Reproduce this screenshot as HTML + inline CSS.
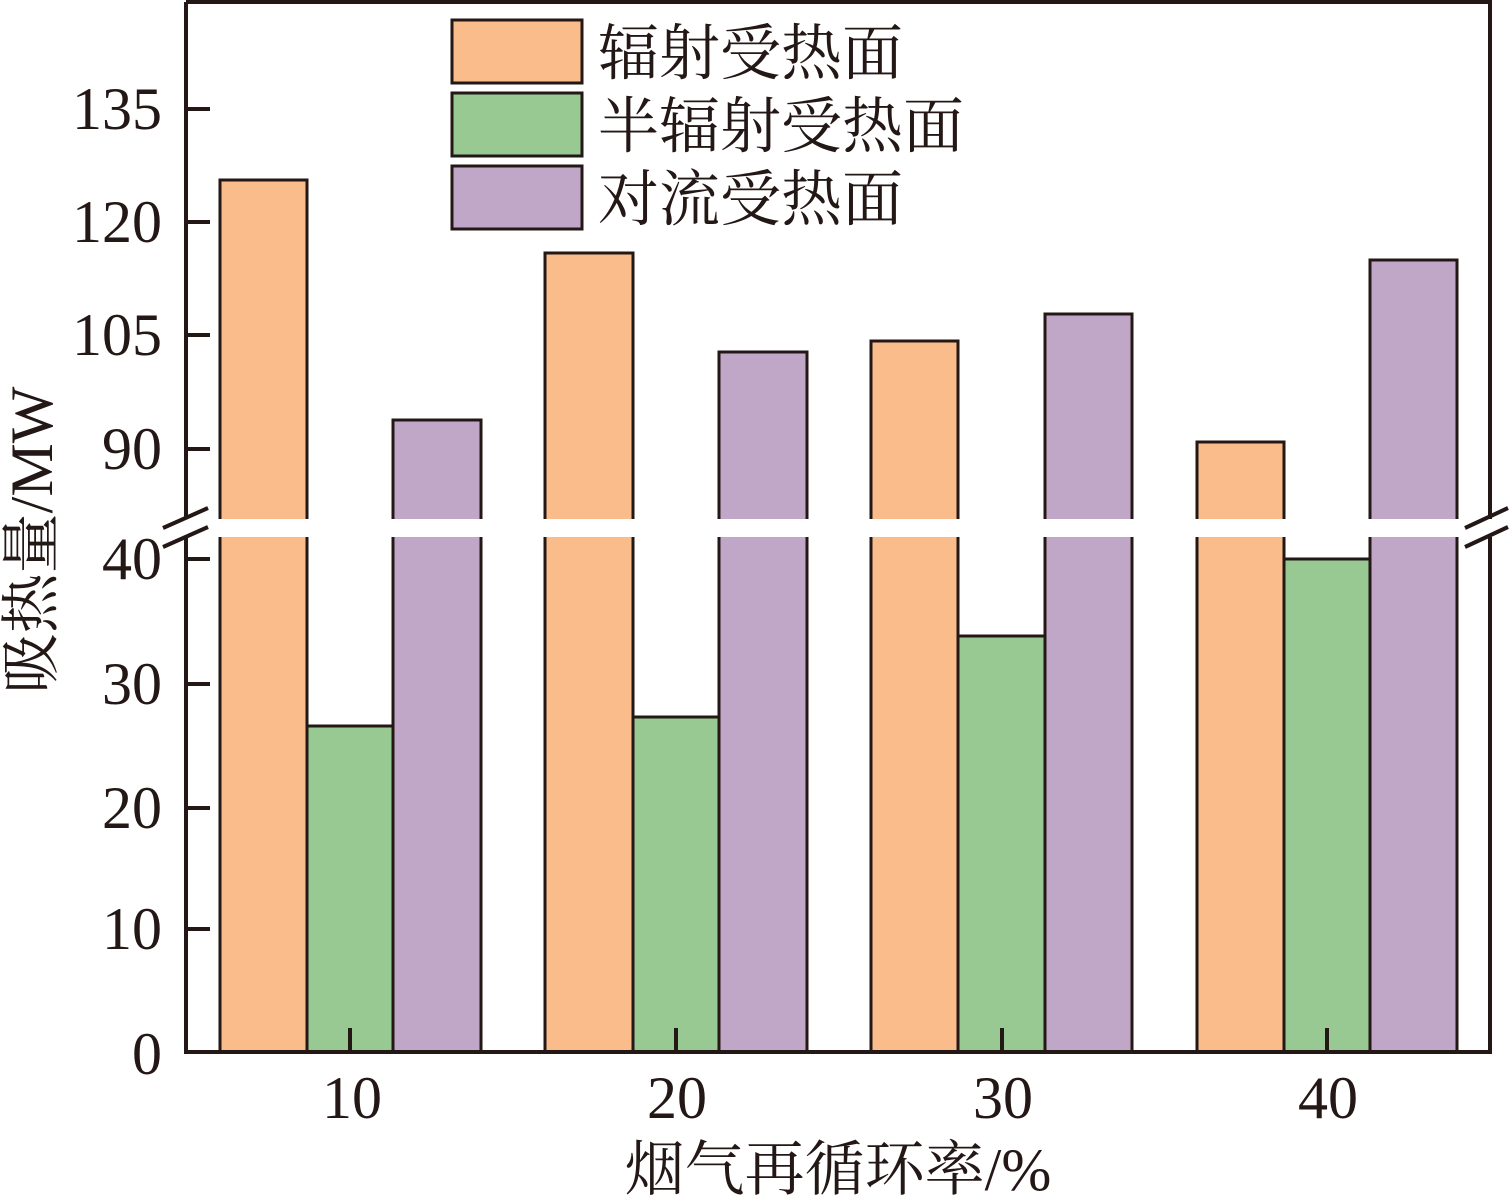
<!DOCTYPE html>
<html><head><meta charset="utf-8"><style>body{margin:0;background:#fff}</style></head><body>
<svg width="1509" height="1199" viewBox="0 0 1509 1199" xmlns="http://www.w3.org/2000/svg" font-family="Liberation Serif, Noto Serif CJK SC, serif">
<g stroke="#231815" stroke-width="3">
<rect x="220" y="180" width="87" height="872" fill="#f9bc8a"/>
<rect x="307" y="726" width="86" height="326" fill="#98c993"/>
<rect x="393" y="420" width="88" height="632" fill="#c0a7c7"/>
<rect x="545" y="253" width="88" height="799" fill="#f9bc8a"/>
<rect x="633" y="717" width="86" height="335" fill="#98c993"/>
<rect x="719" y="352" width="88" height="700" fill="#c0a7c7"/>
<rect x="871" y="341" width="87" height="711" fill="#f9bc8a"/>
<rect x="958" y="636" width="87" height="416" fill="#98c993"/>
<rect x="1045" y="314" width="87" height="738" fill="#c0a7c7"/>
<rect x="1197" y="442" width="87" height="610" fill="#f9bc8a"/>
<rect x="1284" y="559" width="86" height="493" fill="#98c993"/>
<rect x="1370" y="260" width="87" height="792" fill="#c0a7c7"/>
</g>
<rect x="150" y="519" width="1359" height="18" fill="#fff"/>
<g stroke="#231815" stroke-width="4" fill="none">
<path d="M186 2V519M186 537V1052H1490V537M1490 519V2H186"/>
<path d="M163 528L208 508M163 547L208 527M1465 528L1508 508M1465 547L1508 527"/>
<path d="M186 109H210M186 222H210M186 335H210M186 449H210M186 559H210M186 684H210M186 808H210M186 929H210"/>
<path d="M350 1052V1028M676 1052V1028M1002 1052V1028M1327 1052V1028"/>
</g>
<g font-size="60" fill="#231815" text-anchor="end">
<text x="162" y="129">135</text><text x="162" y="242">120</text><text x="162" y="355">105</text><text x="162" y="469">90</text>
<text x="162" y="579">40</text><text x="162" y="704">30</text><text x="162" y="828">20</text><text x="162" y="949">10</text><text x="162" y="1074">0</text>
</g>
<g font-size="60" fill="#231815" text-anchor="middle">
<text x="352" y="1118">10</text><text x="677" y="1118">20</text><text x="1003" y="1118">30</text><text x="1328" y="1118">40</text>
<text x="838" y="1190">烟气再循环率/%</text>
<text transform="translate(52,540) rotate(-90)">吸热量/MW</text>
</g>
<g stroke="#231815" stroke-width="3">
<rect x="452" y="20" width="130" height="63" fill="#f9bc8a"/>
<rect x="452" y="93" width="130" height="63" fill="#98c993"/>
<rect x="452" y="166" width="130" height="63" fill="#c0a7c7"/>
</g>
<g font-size="61" fill="#231815">
<text x="598" y="74">辐射受热面</text><text x="598" y="147">半辐射受热面</text><text x="598" y="220">对流受热面</text>
</g>
</svg>
</body></html>
